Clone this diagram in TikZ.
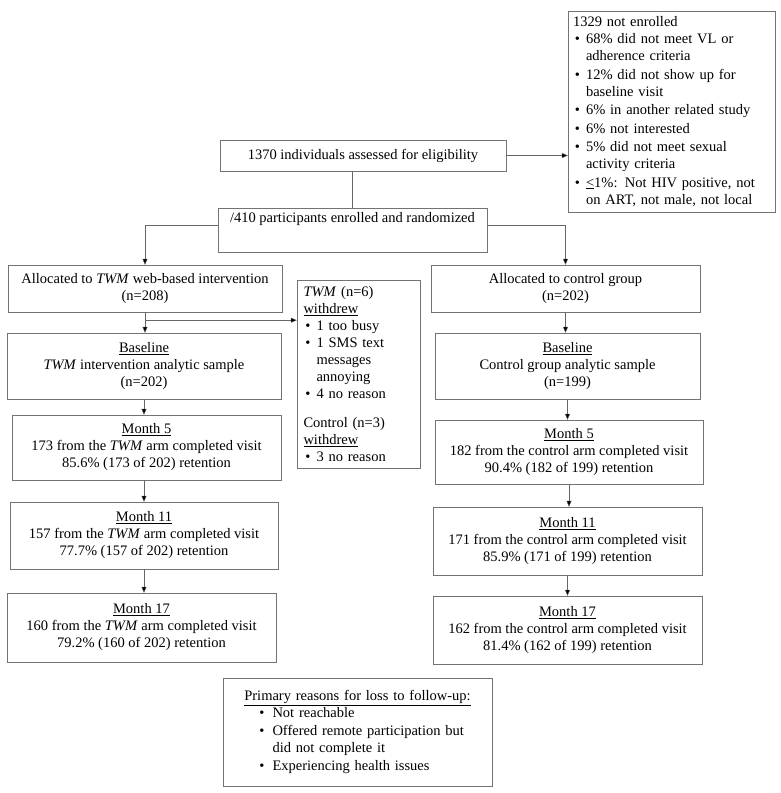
\documentclass[tikz,border=0pt]{standalone}
\usepackage{fontspec}
\setmainfont{Liberation Serif}
\usepackage{enumitem}
\usetikzlibrary{positioning,arrows.meta}
\tikzstyle{box}=[draw=black!55, thin, fill=white, align=center, inner sep=2pt, font=\fontsize{14.5}{17}\selectfont]
\tikzstyle{arr}=[draw=black!60, thin, -{Triangle[width=5pt,length=6pt,fill=black]}]
\newcommand{\bul}{\begin{itemize}[nosep,leftmargin=13pt,labelsep=6pt,label=\textbullet]}
\newcommand{\eul}{\end{itemize}}

\begin{document}
\begin{tikzpicture}[x=1pt,y=-1pt]
  \useasboundingbox (0,0) rectangle (780,793);

  %%%%%%%%%%%%%%%%%%%%%%%%%%%%%%%%%%%%%%%%%%%%%%%%%
  % ENROLMENT
  %%%%%%%%%%%%%%%%%%%%%%%%%%%%%%%%%%%%%%%%%%%%%%%%%
  \node[box, minimum width=286, minimum height=31] (assess) at (363,155.5) {1370 individuals assessed for eligibility};
  \node[box, minimum width=207, minimum height=201, text width=197, align=left] (notenr) at (671.5,111.5)
    {1329 not enrolled
     \begin{itemize}[nosep,itemsep=1.5pt,leftmargin=13pt,labelsep=6pt,label=\textbullet]
       \item 68\% did not meet VL or adherence criteria
       \item 12\% did not show up for baseline visit
       \item 6\% in another related study
       \item 6\% not interested
       \item 5\% did not meet sexual activity criteria
       \item \underline{<}1\%: Not HIV positive, not on ART, not male, not local
     \end{itemize}};
  \node[box, minimum width=269, minimum height=44] (enrol) at (352.5,230) {{\Large /}410 participants enrolled and randomized\\[8pt]};

  %%%%%%%%%%%%%%%%%%%%%%%%%%%%%%%%%%%%%%%%%%%%%%%%%
  % TWM ARM
  %%%%%%%%%%%%%%%%%%%%%%%%%%%%%%%%%%%%%%%%%%%%%%%%%
  \node[box, minimum width=274, minimum height=47] (allocT) at (145,288.5) {Allocated to \textit{TWM} web-based intervention\\(n=208)};
  \node[box, minimum width=274, minimum height=66] (baseT) at (144,366) {\underline{Baseline}\\\textit{TWM} intervention analytic sample\\(n=202)};
  \node[box, minimum width=269, minimum height=65] (m5T) at (146.5,447.5) {\underline{Month 5}\\173 from the \textit{TWM} arm completed visit\\85.6\% (173 of 202) retention};
  \node[box, minimum width=268, minimum height=67] (m11T) at (144,535.5) {\underline{Month 11}\\157 from the \textit{TWM} arm completed visit\\77.7\% (157 of 202) retention};
  \node[box, minimum width=269, minimum height=69] (m17T) at (141.5,627.5) {\underline{Month 17}\\160 from the \textit{TWM} arm completed visit\\79.2\% (160 of 202) retention};

  % withdrawals
  \node[box, minimum width=123, minimum height=188, text width=110, align=left] (withdr) at (358.5,374)
    {\textit{TWM} (n=6)\\\underline{withdrew}
     \bul
       \item 1 too busy
       \item 1 SMS text messages\\annoying
       \item 4 no reason
     \eul
     \vspace{12pt}
     Control (n=3)\\\underline{withdrew}
     \bul
       \item 3 no reason
     \eul};

  %%%%%%%%%%%%%%%%%%%%%%%%%%%%%%%%%%%%%%%%%%%%%%%%%
  % CONTROL ARM
  %%%%%%%%%%%%%%%%%%%%%%%%%%%%%%%%%%%%%%%%%%%%%%%%%
  \node[box, minimum width=269, minimum height=47] (allocC) at (565.5,288.5) {Allocated to control group\\(n=202)};
  \node[box, minimum width=265, minimum height=66] (baseC) at (567.5,366) {\underline{Baseline}\\Control group analytic sample\\(n=199)};
  \node[box, minimum width=268, minimum height=64] (m5C) at (569,452) {\underline{Month 5}\\182 from the control arm completed visit\\90.4\% (182 of 199) retention};
  \node[box, minimum width=269, minimum height=68] (m11C) at (567.5,541) {\underline{Month 11}\\171 from the control arm completed visit\\85.9\% (171 of 199) retention};
  \node[box, minimum width=269, minimum height=68] (m17C) at (567.5,630) {\underline{Month 17}\\162 from the control arm completed visit\\81.4\% (162 of 199) retention};

  % loss to follow-up
  \node[box, minimum width=269, minimum height=108, text width=250, align=left] (loss) at (357.5,732)
    {{\centering\underline{Primary reasons for loss to follow-up:}\par}
     \begin{itemize}[nosep,itemsep=1pt,leftmargin=40pt,labelsep=8pt,label=\textbullet]
       \item Not reachable
       \item Offered remote participation but did not complete it
       \item Experiencing health issues
     \end{itemize}};

  % connectors
  \draw[arr] (assess.east) -- (assess.east -| notenr.west);
  \draw[draw=black!60] (enrol.north |- assess.south) -- (enrol.north);
  \draw[arr] ([yshift=5pt]enrol.west) -| (allocT.north);
  \draw[arr] ([yshift=5pt]enrol.east) -| (allocC.north);
  \draw[arr] (allocT.south) -- (allocT.south |- baseT.north);
  \coordinate (wd) at ([yshift=-8pt]allocT.south);
  \draw[arr] (wd) -- (wd -| withdr.west);
  \draw[arr] (baseT.south) -- (baseT.south |- m5T.north);
  \draw[arr] (m5T.south -| baseT.south) -- (baseT.south |- m11T.north);
  \draw[arr] (m11T.south) -- (m11T.south |- m17T.north);
  \draw[arr] (allocC.south) -- (allocC.south |- baseC.north);
  \draw[arr] (baseC.south) -- (baseC.south |- m5C.north);
  \draw[arr] (m5C.south) -- (m5C.south |- m11C.north);
  \draw[arr] (m11C.south) -- (m11C.south |- m17C.north);
\end{tikzpicture}
\end{document}
